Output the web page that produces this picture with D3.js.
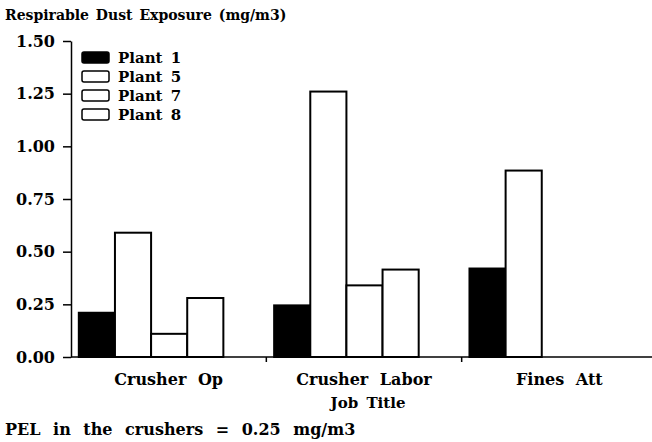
<!DOCTYPE html>
<html>
<head>
	<style type="text/css">
		body { margin: 0; background: #fff; }
		text { font-family: "DejaVu Serif", serif; font-weight: bold; fill: #000; }
		.bar { stroke: #000; stroke-width: 2; }
		.axis path, .axis line { stroke: #000; stroke-width: 1.5; }
	</style>
</head>
<body>
	<svg id="chart" width="652" height="442"></svg>
	<script src="https://d3js.org/d3.v7.min.js"></script>
	<script type="text/javascript">
		var jobs = ["Crusher Op", "Crusher Labor", "Fines Att"];
		var plants = ["Plant 1", "Plant 5", "Plant 7", "Plant 8"];
		var plant1 = [0.21, 0.245, 0.42];
		var plant5 = [0.59, 1.26, 0.885];
		var plant7 = [0.11, 0.34, null];
		var plant8 = [0.28, 0.415, null];
		var yTicks = [0, 0.25, 0.5, 0.75, 1.0, 1.25, 1.5];
		var fills = ["#000", "#fff", "#fff", "#fff"];

		var series = [plant1, plant5, plant7, plant8];

		var svg = d3.select("#chart");

		var x = d3.scaleBand().domain(jobs).range([71, 657]),
			x1 = d3.scaleBand().domain(plants).range([x.bandwidth() * 0.04, x.bandwidth() * 0.78]),
			y = d3.scaleLinear().domain([0, 1.5]).range([357, 41]);

		// bars
		var rows = [];
		jobs.forEach(function(job, j) {
			plants.forEach(function(p, i) {
				if (series[i][j] != null) rows.push({job: job, plant: p, i: i, value: series[i][j]});
			});
		});

		svg.append("g").selectAll("rect")
			.data(rows)
			.enter()
			.append("rect")
			.attr("class", "bar")
			.attr("x", function(d) { return x(d.job) + x1(d.plant); })
			.attr("y", function(d) { return y(d.value); })
			.attr("width", x1.bandwidth())
			.attr("height", function(d) { return y(0) - y(d.value); })
			.style("fill", function(d) { return fills[d.i]; });

		// y axis
		var yAxis = svg.append("g")
			.attr("class", "axis")
			.attr("transform", "translate(71,0)")
			.call(d3.axisLeft(y).tickValues(yTicks).tickFormat(d3.format(".2f")).tickSize(8).tickSizeOuter(0));
		yAxis.selectAll("text")
			.attr("x", -16)
			.style("font-size", "16px")
			.style("font-family", "'DejaVu Serif', serif");

		// x axis
		var xAxis = svg.append("g")
			.attr("class", "axis")
			.attr("transform", "translate(0," + y(0) + ")");
		xAxis.append("line")
			.attr("x1", 71).attr("x2", 652)
			.attr("y1", 0).attr("y2", 0);
		xAxis.selectAll(".tk")
			.data(jobs.slice(1))
			.enter()
			.append("line")
			.attr("x1", function(d) { return x(d); })
			.attr("x2", function(d) { return x(d); })
			.attr("y1", 0).attr("y2", 5);
		xAxis.selectAll(".lab")
			.data(jobs)
			.enter()
			.append("text")
			.attr("x", function(d) { return x(d) + x.bandwidth() / 2; })
			.attr("y", 28)
			.attr("text-anchor", "middle")
			.style("font-size", "16px")
			.style("word-spacing", "6px")
			.text(function(d) { return d; });

		// titles
		svg.append("text")
			.attr("x", 5).attr("y", 20)
			.style("font-size", "14px")
			.style("word-spacing", "2px")
			.text("Respirable Dust Exposure (mg/m3)");

		svg.append("text")
			.attr("x", 368).attr("y", 408)
			.attr("text-anchor", "middle")
			.style("font-size", "15px")
			.style("word-spacing", "3px")
			.text("Job Title");

		svg.append("text")
			.attr("x", 5).attr("y", 435)
			.style("font-size", "16px")
			.style("word-spacing", "7px")
			.text("PEL in the crushers = 0.25 mg/m3");

		// legend
		var legend = svg.append("g").attr("class", "legend");
		var leg = legend.selectAll("g")
			.data(plants)
			.enter()
			.append("g")
			.attr("transform", function(d, i) { return "translate(82," + (52 + i * 19) + ")"; });
		leg.append("rect")
			.attr("width", 27).attr("height", 11)
			.attr("rx", 2)
			.style("stroke", "#000").style("stroke-width", 1.5)
			.style("fill", function(d, i) { return fills[i]; });
		leg.append("text")
			.attr("x", 36).attr("y", 11)
			.style("font-size", "15px")
			.style("word-spacing", "3px")
			.text(function(d) { return d; });
	</script>
</body>
</html>
